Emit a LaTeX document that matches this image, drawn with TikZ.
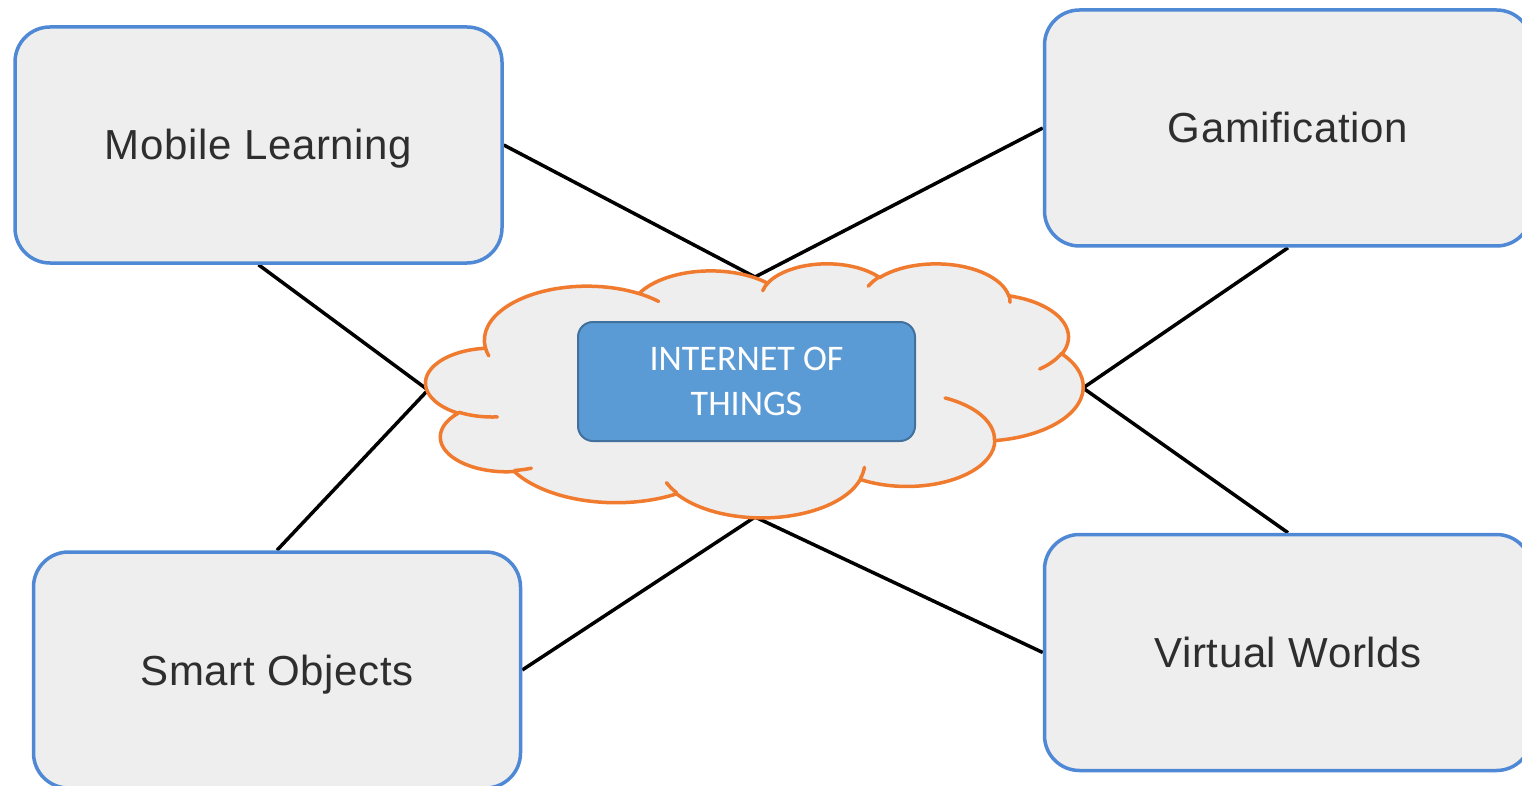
\documentclass[tikz,border=0pt]{standalone}
\usepackage{fontspec}
\setmainfont{Liberation Sans}
\newfontfamily\boxfont[LetterSpace=1.5]{Liberation Sans}
\newfontfamily\iotfont{Carlito}
\definecolor{boxfill}{HTML}{EEEEEE}
\definecolor{boxline}{HTML}{4F88D5}
\definecolor{txt}{HTML}{2E2E2E}
\definecolor{cloudline}{HTML}{F07A2E}
\definecolor{iotfill}{HTML}{5B9BD5}
\definecolor{iotline}{HTML}{41719C}
\pgfdeclarelayer{bg}
\pgfsetlayers{bg,main}
% arc helper: name, wR, hR, visual start angle, visual sweep (DrawingML style)
\newcommand\mkcarc[5]{%
  \pgfmathsetmacro\cltmpa{atan2((#2)*sin(#4),(#3)*cos(#4))}%
  \pgfmathsetmacro\cltmpb{atan2((#2)*sin((#4)+(#5)),(#3)*cos((#4)+(#5)))}%
  \pgfmathsetmacro\cltmpd{\cltmpb-\cltmpa+360*(\cltmpb<\cltmpa)}%
  \expandafter\let\csname cl#1s\endcsname\cltmpa
  \expandafter\let\csname cl#1d\endcsname\cltmpd
  \expandafter\def\csname cl#1x\endcsname{#2}%
  \expandafter\def\csname cl#1y\endcsname{#3}}
\tikzset{
  carc/.style={insert path={arc[start angle=\csname cl#1s\endcsname,
      delta angle=\csname cl#1d\endcsname,
      x radius=\csname cl#1x\endcsname, y radius=\csname cl#1y\endcsname]}},
  topic/.style={draw=boxline, fill=boxfill, line width=3.5pt, rounded corners=35pt,
      minimum width=487pt, minimum height=236pt, inner sep=0pt,
      text height=30pt, text depth=0pt,
      font=\boxfont\fontsize{42}{50}\selectfont, text=txt},
  iot/.style={draw=iotline, fill=iotfill, line width=2pt, rounded corners=15pt,
      minimum width=337pt, minimum height=119pt, inner sep=0pt, align=center,
      font=\iotfont\fontsize{36}{45}\selectfont, text=white},
  link/.style={draw=black, line width=3.5pt},
  cloudshape/.style={draw=cloudline, fill=boxfill, line width=3.5pt, line join=round},
  cloudhook/.style={draw=cloudline, line width=3.5pt, line cap=round},
}
\begin{document}
\begin{tikzpicture}[x=1pt,y=-1pt]
\useasboundingbox (0,0) rectangle (1522,786);
\clip (0,0) rectangle (1522,786);

% outer topics
\node[topic] (ml) at (258.5,145) {Mobile Learning};
\node[topic] (gm) at (1288,128) {Gamification};
\node[topic] (so) at (277,670) {Smart Objects};
\node[topic] (vw) at (1288,652.5) {Virtual Worlds};

% meeting points on the cloud
\coordinate (ctop) at (755,277);
\coordinate (cbot) at (755,517);
\coordinate (cleft) at (428,390);
\coordinate (cright) at (1083,388);

\begin{pgfonlayer}{bg}
  \draw[link] (ml.east) -- (ctop) -- (gm.west);
  \draw[link] (ml.south) -- (cleft) -- (so.north);
  \draw[link] (gm.south) -- (cright) -- (vw.north);
  \draw[link] (so.east) -- (cbot) -- (vw.west);
\end{pgfonlayer}

% cloud (DrawingML cloud geometry, 432 x 432 units)
\mkcarc{A}{67.53}{91.90}{-190.4875}{123.7805}
\mkcarc{B}{53.33}{72.67}{-144.1024}{89.9452}
\mkcarc{C}{43.65}{59.45}{-145.8079}{99.7230}
\mkcarc{D}{48.57}{65.95}{-130.9861}{117.2417}
\mkcarc{E}{53.33}{72.73}{-78.7089}{109.0269}
\mkcarc{F}{67.75}{92.20}{-46.2673}{130.2690}
\mkcarc{G}{57.85}{78.67}{0.6250}{114.0333}
\mkcarc{H}{67.52}{92.15}{22.4516}{115.1726}
\mkcarc{I}{77.20}{105.43}{66.2426}{75.7110}
\mkcarc{J}{43.60}{59.18}{-274.9421}{146.7356}
\mkcarc{K}{43.45}{59.45}{-246.8285}{152.5189}
\mkcarc{h1}{43.45}{59.45}{86.7420}{26.4295}
\mkcarc{h2}{43.60}{59.18}{73.6105}{11.4475}
\mkcarc{h3}{67.52}{92.15}{137.6242}{14.0811}
\mkcarc{h4}{67.52}{92.15}{6.4533}{15.9984}
\mkcarc{h5}{57.85}{78.67}{-70.2924}{70.9174}
\mkcarc{h6}{53.33}{72.73}{30.3180}{27.7515}
\mkcarc{h7}{48.57}{65.95}{-13.7443}{14.8589}
\mkcarc{h8}{48.57}{65.95}{-149.1815}{18.1954}
\mkcarc{h9}{43.65}{59.45}{-163.4943}{17.6864}
\mkcarc{h10}{67.53}{91.90}{-66.7070}{12.3194}
\mkcarc{h11}{67.53}{91.90}{157.6544}{11.8582}
\begin{scope}[shift={(426,263)}, x=1.52083pt, y=-0.58796pt]
  \path[cloudshape] (39.00,143.70) [carc=A] [carc=B] [carc=C] [carc=D] [carc=E]
     [carc=F] [carc=G] [carc=H] [carc=I] [carc=J] [carc=K] -- cycle;
  \path[cloudhook]
     (46.93,261.77) [carc=h1]
     (69.28,348.99) [carc=h2]
     (164.78,390.90) [carc=h3]
     (288.27,347.51) [carc=h4]
     (341.29,229.54) [carc=h5]
     (417.98,153.54) [carc=h6]
     (383.24,54.26) [carc=h7]
     (290.78,39.52) [carc=h8]
     (221.41,47.20) [carc=h9]
     (140.00,51.92) [carc=h10]
     (41.27,157.89) [carc=h11];
\end{scope}

\node[iot] (iot) at (746.5,381.5) {INTERNET OF\\THINGS};
\end{tikzpicture}
\end{document}
